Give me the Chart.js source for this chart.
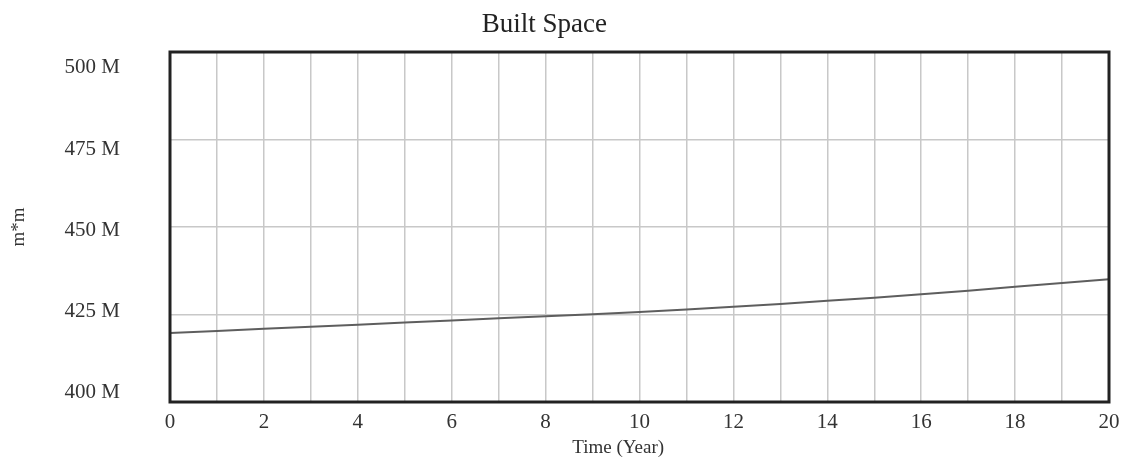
<!DOCTYPE html>
<html>
<head>
<meta charset="utf-8">
<script src="https://cdn.jsdelivr.net/npm/chart.js@4/dist/chart.umd.min.js"></script>
<style>
  html, body { margin: 0; padding: 0; background: #fff; }
  #wrap { width: 1122px; height: 459px; }
</style>
</head>
<body>
<div id="wrap"><canvas id="builtChart" width="1122" height="459"></canvas></div>
<script>
const years = [0, 1, 2, 3, 4, 5, 6, 7, 8, 9, 10, 11, 12, 13, 14, 15, 16, 17, 18, 19, 20];

// Built Space (m*m)
const builtSpace = [
  419.7e6, 420.3e6, 420.9e6, 421.5e6, 422.1e6, 422.7e6, 423.3e6, 423.9e6,
  424.5e6, 425.1e6, 425.7e6, 426.4e6, 427.2e6, 428.0e6, 428.9e6, 429.8e6,
  430.8e6, 431.8e6, 432.9e6, 434.0e6, 435.1e6,
];

const yTicks = [400e6, 425e6, 450e6, 475e6, 500e6];
const xLabelTicks = [0, 2, 4, 6, 8, 10, 12, 14, 16, 18, 20];

const serif = "'Liberation Serif', 'DejaVu Serif', serif";

const frame = {
  id: "frame",
  afterDraw(chart) {
    const { ctx, chartArea: a } = chart;
    ctx.save();
    ctx.strokeStyle = "#222";
    ctx.lineWidth = 3;
    ctx.strokeRect(a.left, a.top, a.right - a.left, a.bottom - a.top);
    ctx.restore();
  },
};

new Chart(document.getElementById("builtChart"), {
  type: "line",
  data: {
    datasets: [
      {
        label: "Built Space",
        data: years.map((t, i) => ({ x: t, y: builtSpace[i] })),
        borderColor: "#5e5e5e",
        borderWidth: 2,
        pointRadius: 0,
        tension: 0,
        fill: false,
      },
    ],
  },
  options: {
    responsive: false,
    animation: false,
    layout: { padding: { left: 0, right: 13, top: 0, bottom: 0 } },
    plugins: {
      legend: { display: false },
      tooltip: { enabled: false },
      title: {
        display: true,
        text: "Built Space   ",
        color: "#222",
        font: { family: serif, size: 27, weight: "normal" },
        padding: { top: 9, bottom: 10.6 },
      },
    },
    scales: {
      x: {
        type: "linear",
        min: 0,
        max: 20,
        afterFit: (s) => {
          s.height = 57;
          s.paddingLeft = 0;
          s.paddingRight = 0;
        },
        afterBuildTicks: (s) => {
          s.ticks = years.map((v) => ({ value: v }));
        },
        grid: { color: "#c8c8c8", lineWidth: 1.5, drawTicks: false },
        border: { display: false },
        ticks: {
          autoSkip: false,
          maxRotation: 0,
          padding: 8,
          color: "#333",
          font: { family: serif, size: 21 },
          callback: (v) => (xLabelTicks.includes(v) ? String(v) : ""),
        },
        title: {
          display: true,
          text: "Time (Year)         ",
          color: "#333",
          font: { family: serif, size: 19 },
          padding: { top: 0, bottom: 0 },
        },
      },
      // data axis: carries the grid only
      y: {
        min: 400e6,
        max: 500e6,
        afterFit: (s) => {
          s.width = 0;
          s.paddingTop = 0;
          s.paddingBottom = 0;
        },
        afterBuildTicks: (s) => {
          s.ticks = yTicks.map((v) => ({ value: v }));
        },
        grid: { color: "#c8c8c8", lineWidth: 1.5, drawTicks: false },
        border: { display: false },
        ticks: { display: false },
      },
      // label axis: tick labels sit slightly inward, as in the reference
      yLabels: {
        position: "left",
        min: 397.2e6,
        max: 504.9e6,
        afterFit: (s) => {
          s.width = 170;
          s.paddingTop = 0;
          s.paddingBottom = 0;
        },
        afterBuildTicks: (s) => {
          s.ticks = yTicks.map((v) => ({ value: v }));
        },
        grid: { display: false },
        border: { display: false },
        ticks: {
          padding: 42,
          color: "#333",
          font: { family: serif, size: 21 },
          callback: (v) => `${v / 1e6} M`,
        },
        title: {
          display: true,
          text: "m*m",
          color: "#333",
          font: { family: serif, size: 19 },
          padding: { top: 8, bottom: 0 },
        },
      },
    },
  },
  plugins: [frame],
});
</script>
</body>
</html>
